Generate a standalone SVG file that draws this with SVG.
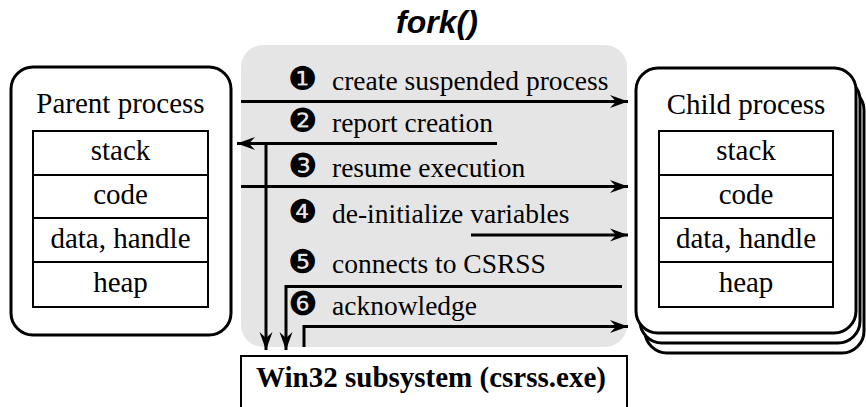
<svg xmlns="http://www.w3.org/2000/svg" width="866" height="407" viewBox="0 0 866 407">
<style>
.proc{fill:#fff;stroke:#000;stroke-width:3}
.cell{fill:#fff;stroke:#000;stroke-width:2}
.t{font-family:"Liberation Serif","Times New Roman",serif;font-size:29px;fill:#000}
.l{font-size:27.5px}
.c{text-anchor:middle}
.n{font-family:"DejaVu Sans",sans-serif;font-size:33px}
.ln{fill:none;stroke:#000;stroke-width:3}
.ar{marker-end:url(#ah)}
</style>
<defs>
<marker id="ah" markerUnits="userSpaceOnUse" viewBox="-19 -7 20 14" refX="0" refY="0" markerWidth="20" markerHeight="14" orient="auto">
<path d="M0,0 L-18,-6.5 L-12,0 L-18,6.5 Z" fill="#000"/>
</marker>
</defs>
<text x="437" y="33" text-anchor="middle" font-family="'Liberation Sans',Arial,sans-serif" font-weight="bold" font-style="italic" font-size="32">fork()</text>
<g id="fork-area">
<rect x="241" y="45" width="386" height="302" rx="22" fill="#e5e5e5"/>
</g>
<g id="parent">
<rect class="proc" x="11" y="67" width="220" height="268" rx="22"/>
<text class="t c" x="120.5" y="113">Parent process</text>
<rect class="cell" x="33" y="131" width="175" height="44"/>
<rect class="cell" x="33" y="175" width="175" height="43"/>
<rect class="cell" x="33" y="218" width="175" height="44"/>
<rect class="cell" x="33" y="262" width="175" height="45"/>
<text class="t c" x="120.5" y="160">stack</text>
<text class="t c" x="120.5" y="204">code</text>
<text class="t c" x="120.5" y="248">data, handle</text>
<text class="t c" x="120.5" y="292">heap</text>
</g>
<g id="child">
<rect class="proc" x="645" y="88" width="219" height="265" rx="22"/>
<rect class="proc" x="640" y="78" width="220" height="265" rx="22"/>
<rect class="proc" x="636" y="68" width="220" height="265" rx="22"/>
<text class="t c" x="746" y="114">Child process</text>
<rect class="cell" x="659" y="131" width="174" height="44"/>
<rect class="cell" x="659" y="175" width="174" height="43"/>
<rect class="cell" x="659" y="218" width="174" height="44"/>
<rect class="cell" x="659" y="262" width="174" height="45"/>
<text class="t c" x="746" y="160">stack</text>
<text class="t c" x="746" y="204">code</text>
<text class="t c" x="746" y="248">data, handle</text>
<text class="t c" x="746" y="292">heap</text>
</g>
<g id="csrss">
<rect x="241" y="356" width="386" height="60" fill="#fff" stroke="#000" stroke-width="2"/>
<text class="t c" x="431" y="387" font-weight="bold" font-size="29.5">Win32 subsystem (csrss.exe)</text>
</g>
<g id="labels">
<text class="t l" y="90"><tspan class="n" x="288">❶</tspan><tspan x="332">create suspended process</tspan></text>
<text class="t l" y="132"><tspan class="n" x="288">❷</tspan><tspan x="332">report creation</tspan></text>
<text class="t l" y="177"><tspan class="n" x="288">❸</tspan><tspan x="332">resume execution</tspan></text>
<text class="t l" y="223"><tspan class="n" x="288">❹</tspan><tspan x="332">de-initialize variables</tspan></text>
<text class="t l" y="273"><tspan class="n" x="288">❺</tspan><tspan x="332">connects to CSRSS</tspan></text>
<text class="t l" y="315"><tspan class="n" x="288">❻</tspan><tspan x="332">acknowledge</tspan></text>
</g>
<g id="connectors">
<path class="ln ar" d="M241,101.5 H628"/>
<path class="ln ar" d="M497,143.5 H237"/>
<path class="ln ar" d="M266,143.5 V350"/>
<path class="ln ar" d="M241,186.5 H628"/>
<path class="ln ar" d="M471,235 H628"/>
<path class="ln ar" d="M622,286.5 H286 V350"/>
<path class="ln ar" d="M304,347 V326.5 H628"/>
</g>
</svg>
